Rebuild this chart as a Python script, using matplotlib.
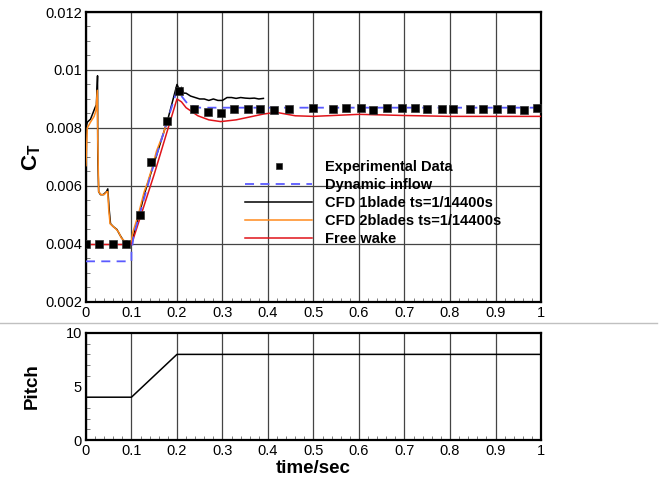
import numpy as np
import matplotlib.pyplot as plt
from matplotlib.lines import Line2D
from matplotlib.ticker import MultipleLocator

plt.rcParams['font.family'] = ['Liberation Sans', 'DejaVu Sans']
plt.rcParams['mathtext.fontset'] = 'custom'
plt.rcParams['mathtext.rm'] = 'Liberation Sans'
plt.rcParams['mathtext.bf'] = 'Liberation Sans:bold'

# experimental thrust coefficient
exp_t = [0.0, 0.029, 0.059, 0.089, 0.118, 0.144, 0.178, 0.204, 0.237, 0.268, 0.296,
         0.325, 0.356, 0.383, 0.414, 0.446, 0.5, 0.543, 0.571, 0.604, 0.631, 0.662,
         0.694, 0.723, 0.75, 0.782, 0.807, 0.844, 0.873, 0.903, 0.934, 0.963, 0.991]
exp_ct = [0.0040, 0.0040, 0.0040, 0.0040, 0.0050, 0.00682, 0.00825, 0.00928, 0.00865,
          0.00854, 0.00851, 0.00865, 0.00867, 0.00865, 0.00862, 0.00867, 0.0087, 0.00866,
          0.00869, 0.00868, 0.00863, 0.00869, 0.00869, 0.00869, 0.00866, 0.00867, 0.00867,
          0.00864, 0.00864, 0.00867, 0.00865, 0.00862, 0.00869]

# dynamic inflow model
dyn_t = [0.0, 0.1, 0.1, 0.105, 0.15, 0.2, 0.21, 0.225, 0.25, 1.0]
dyn_ct = [0.0034, 0.0034, 0.0037, 0.0043, 0.0068, 0.0093, 0.0091, 0.0088, 0.0087, 0.0087]

# CFD, one blade
cfd1_t = [0.0, 0.0, 0.003, 0.01, 0.02, 0.023, 0.0255, 0.026, 0.028, 0.032, 0.038,
          0.045, 0.048, 0.051, 0.054, 0.06, 0.068, 0.075, 0.083, 0.09, 0.1, 0.105,
          0.11, 0.12, 0.13, 0.14, 0.15, 0.16, 0.17, 0.18, 0.19, 0.2, 0.203, 0.207,
          0.21, 0.215, 0.22, 0.23, 0.24, 0.25, 0.26, 0.27, 0.28, 0.29, 0.3, 0.31,
          0.32, 0.33, 0.34, 0.35, 0.36, 0.37, 0.38, 0.39]
cfd1_ct = [0.0057, 0.0080, 0.0082, 0.0083, 0.0087, 0.0088, 0.0098, 0.0070, 0.0058,
           0.0057, 0.0057, 0.0058, 0.0059, 0.0052, 0.0047, 0.0046, 0.0045, 0.0043,
           0.0041, 0.0041, 0.0040, 0.0043, 0.0046, 0.0052, 0.0058, 0.0063, 0.0068,
           0.0073, 0.0078, 0.0083, 0.0089, 0.0095, 0.0094, 0.0093, 0.0094, 0.0092,
           0.0092, 0.0091, 0.00905, 0.0090, 0.0090, 0.00895, 0.0090, 0.00895, 0.00895,
           0.00905, 0.00905, 0.00902, 0.00905, 0.00903, 0.00902, 0.00903, 0.00900, 0.00902]

# CFD, two blades
cfd2_t = [0.0, 0.003, 0.01, 0.018, 0.022, 0.025, 0.026, 0.028, 0.033, 0.04, 0.046,
          0.048, 0.05, 0.053, 0.06, 0.067, 0.072, 0.078, 0.085, 0.095, 0.099, 0.103,
          0.115, 0.128, 0.135, 0.145, 0.155, 0.16, 0.17, 0.178]
cfd2_ct = [0.0067, 0.0080, 0.0082, 0.0084, 0.0086, 0.0093, 0.0076, 0.0058, 0.0057,
           0.0057, 0.0058, 0.0058, 0.0052, 0.0047, 0.0046, 0.0045, 0.0044, 0.0042,
           0.0041, 0.00405, 0.0040, 0.0044, 0.0050, 0.0058, 0.0061, 0.0066, 0.0072,
           0.0074, 0.0078, 0.0082]

# free wake model
fw_t = [0.0, 0.1, 0.15, 0.2, 0.21, 0.22, 0.246, 0.27, 0.296, 0.33, 0.36, 0.39, 0.418,
        0.46, 0.5, 0.6, 0.7, 0.8, 0.9, 1.0]
fw_ct = [0.00398, 0.00398, 0.0064, 0.0090, 0.0089, 0.0087, 0.00842, 0.00828, 0.00822,
         0.00828, 0.00838, 0.00848, 0.00854, 0.00842, 0.0084, 0.00847, 0.00843, 0.0084,
         0.0084, 0.0084]

# blade pitch schedule
pitch_t = [0.0, 0.1, 0.2, 1.0]
pitch_deg = [4, 4, 8, 8]

xlabels = ['0', '0.1', '0.2', '0.3', '0.4', '0.5', '0.6', '0.7', '0.8', '0.9', '1']

fig = plt.figure(figsize=(6.61, 4.80), dpi=100)
ax1 = fig.add_axes([0.130, 0.371, 0.6885, 0.604])
ax2 = fig.add_axes([0.130, 0.0833, 0.6885, 0.223])

ax1.plot(exp_t, exp_ct, 's', color='black', ms=5.5, mec='#333333', mew=0.5,
         label='Experimental Data', zorder=5)
ax1.plot(dyn_t, dyn_ct, '--', color='#5a5aff', lw=1.3, dashes=(5, 3.5),
         label='Dynamic inflow', zorder=4)
ax1.plot(cfd1_t, cfd1_ct, color='black', lw=1.1, label='CFD 1blade ts=1/14400s', zorder=3)
ax1.plot(cfd2_t, cfd2_ct, color='#ff8a1c', lw=1.1, label='CFD 2blades ts=1/14400s', zorder=3)
ax1.plot(fw_t, fw_ct, color='#e0141a', lw=1.1, label='Free wake', zorder=3)

ax1.set_xlim(0, 1)
ax1.set_ylim(0.002, 0.012)
ax1.set_xticks(np.arange(0, 1.01, 0.1))
ax1.set_xticklabels(xlabels)
ax1.xaxis.set_minor_locator(MultipleLocator(0.02))
ax1.set_yticks(np.arange(0.002, 0.0121, 0.002))
ax1.set_yticklabels(['0.002', '0.004', '0.006', '0.008', '0.01', '0.012'])
ax1.yaxis.set_minor_locator(MultipleLocator(0.0005))
ax1.grid(True, which='major', color='#444444', lw=0.9)
ax1.set_ylabel(r'$\mathdefault{C_T}$', fontsize=16, fontweight='bold', labelpad=1)

leg = ax1.legend(loc='upper left', bbox_to_anchor=(245 / 661, 1 - 160 / 480),
                 bbox_transform=fig.transFigure, frameon=False,
                 prop={'weight': 'bold', 'size': 10.5}, borderpad=0, borderaxespad=0,
                 handlelength=4.6, handletextpad=0.9, labelspacing=0.28,
                 markerscale=0.8)

ax2.plot(pitch_t, pitch_deg, color='black', lw=1.1)
ax2.set_xlim(0, 1)
ax2.set_ylim(0, 10)
ax2.set_xticks(np.arange(0, 1.01, 0.1))
ax2.set_xticklabels(xlabels)
ax2.xaxis.set_minor_locator(MultipleLocator(0.02))
ax2.set_yticks([0, 5, 10])
ax2.yaxis.set_minor_locator(MultipleLocator(1))
ax2.grid(True, axis='x', which='major', color='#444444', lw=0.9)
ax2.set_ylabel('Pitch', fontsize=13.5, fontweight='bold', labelpad=18)
ax2.set_xlabel('time/sec', fontsize=13.5, fontweight='bold', labelpad=1)

for ax in (ax1, ax2):
    for sp in ax.spines.values():
        sp.set_linewidth(1.6)
    ax.tick_params(which='both', direction='in', labelsize=10.5, pad=3)
    ax.tick_params(which='major', length=0)
    ax.tick_params(which='minor', length=3, width=0.6, color='#666666')
    ax.set_axisbelow(True)

# thin separator between the two panels
fig.add_artist(Line2D([0.0, 0.994], [1 - 323 / 480] * 2, transform=fig.transFigure,
                      color='#c0c0c0', lw=1))

fig.savefig('out.png', dpi=100)
